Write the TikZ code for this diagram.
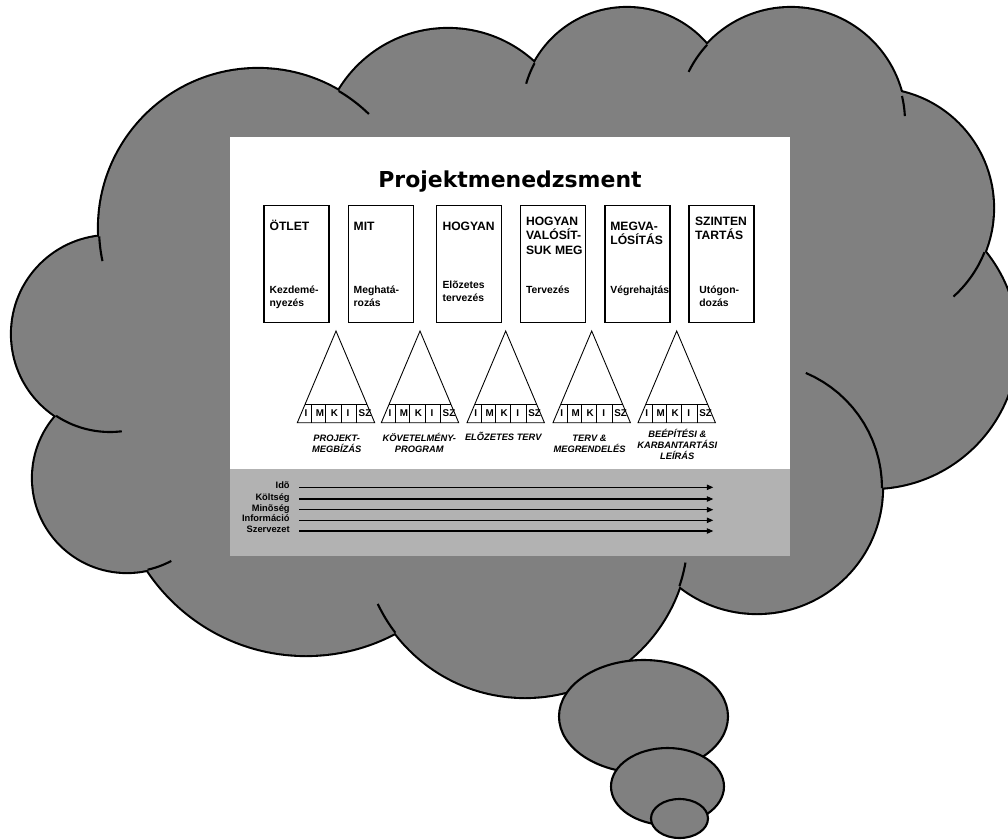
\documentclass[tikz,border=0pt]{standalone}
\usepackage{fontspec}
\setmainfont{Liberation Sans}
\newfontfamily\headfont{DejaVu Sans}
\usetikzlibrary{arrows.meta}
\definecolor{cloudGray}{RGB}{128,128,128}
\definecolor{bandGray} {RGB}{178,178,178}

\tikzset{
  cloudline/.style={line width=1.2pt},
  phasebox/.style={draw,line width=0.6pt,minimum width=1.3cm,
                   minimum height=2.34cm,inner sep=0pt},
  headtext/.style={font=\fontsize{6.9}{8.2}\selectfont\bfseries,
                   align=left,anchor=base west,inner sep=0pt},
  subtext/.style={font=\fontsize{5.9}{7.6}\selectfont\bfseries,
                  align=left,anchor=base west,inner sep=0pt},
  pyramid/.style={line width=0.5pt},
  cell/.style={font=\fontsize{5.6}{6}\selectfont\bfseries,inner sep=0pt},
  doclabel/.style={font=\fontsize{5.3}{6.2}\selectfont\bfseries\itshape,
                   align=center,anchor=base,inner sep=0pt},
  bandlabel/.style={font=\fontsize{5.3}{6}\selectfont\bfseries,
                    anchor=base east,inner sep=0pt},
  flowline/.style={line width=0.6pt,-{Triangle[length=3.6pt,width=3pt]}}
}

\begin{document}
\begin{tikzpicture}[x=0.02cm,y=-0.02cm]
    \useasboundingbox (0,0) rectangle (1008,839);

    % ── FELHŐ ─────────────────────────────────────────────
    \begin{scope}
      \clip (0,0) rectangle (1008,839);
      \foreach \cx/\cy/\r in {110/334/98,258/228/159,448/156/127,627/113/105,
                              791/122/114,874/208/119,872/343/145,757/488/125,
                              525/534/163,306/465/190,127/478/94}
        \draw[line width=2.4pt] (\cx,\cy) circle[radius=\r];
      \fill[cloudGray] (110,334) -- (258,228) -- (448,156) -- (627,113)
        -- (791,122) -- (874,208) -- (872,343) -- (757,488) -- (525,534)
        -- (306,465) -- (127,478) -- cycle;
      \foreach \cx/\cy/\r in {110/334/98,258/228/159,448/156/127,627/113/105,
                              791/122/114,874/208/119,872/343/145,757/488/125,
                              525/534/163,306/465/190,127/478/94}
        \fill[cloudGray] (\cx,\cy) circle[radius=\r];
      % belső ívek
      \foreach \cx/\cy/\r/\a/\b in {258/228/159/177/168,258/228/159/300.5/314.2,
               627/113/105/208.3/196.2,791/122/114/222.6/206.1,
               791/122/114/346.8/357,874/208/119/21.8/48.1,
               757/488/125/360/293,525/534/163/18.6/10.1,
               525/534/163/142.7/154.6,127/478/94/77.4/61.9,
               110/334/98/123.4/83.1}
        \draw[cloudline] plot[domain=\a:\b,samples=16]
          ({\cx+\r*cos(\x)},{\cy+\r*sin(\x)});
    \end{scope}
    % buborékok
    \draw[cloudline,fill=cloudGray] (643.5,716.5) ellipse[x radius=84.5,y radius=56.5];
    \draw[cloudline,fill=cloudGray] (667.5,786.5) ellipse[x radius=56.5,y radius=38.5];
    \draw[cloudline,fill=cloudGray] (679.5,818.5) ellipse[x radius=28.5,y radius=19.5];

    % ── LAP ───────────────────────────────────────────────
    \fill[white] (230,137) rectangle (790,556);
    \fill[bandGray] (230,469) rectangle (790,556);

    \node[font=\headfont\bfseries\fontsize{12.5}{15}\selectfont,anchor=base]
      (title) at (510,187.3) {Projektmenedzsment};

    % ── FÁZISOK (base = utolsó sor alapvonala) ────────────
    \node[phasebox] (otlet) at (296.5,264.2) {};
    \node[headtext] (otletHead) at (269.3,230.4) {ÖTLET};
    \node[subtext]  (otletSub)  at (269.3,306.7) {Kezdemé-\\nyezés};

    \node[phasebox] (mit) at (380.8,264.2) {};
    \node[headtext] (mitHead) at (353.3,230.4) {MIT};
    \node[subtext]  (mitSub)  at (353.3,306.7) {Meghatá-\\rozás};

    \node[phasebox] (hogyan) at (469.2,264.2) {};
    \node[headtext] (hogyanHead) at (442.2,230.4) {HOGYAN};
    \node[subtext]  (hogyanSub)  at (442.2,301.9) {Elõzetes\\tervezés};

    \node[phasebox] (valosit) at (553.2,264.2) {};
    \node[headtext] (valositHead) at (525.7,254.0) {HOGYAN\\VALÓSÍT-\\SUK MEG};
    \node[subtext]  (valositSub)  at (525.7,293.3) {Tervezés};

    \node[phasebox] (megval) at (637.5,264.2) {};
    \node[headtext] (megvalHead) at (610,244.9) {MEGVA-\\LÓSÍTÁS};
    \node[subtext]  (megvalSub)  at (610,293.3) {Végrehajtás};

    \node[phasebox] (szinten) at (721.5,264.2) {};
    \node[headtext] (szintenHead) at (694.7,239.6) {SZINTEN\\TARTÁS};
    \node[subtext]  (szintenSub)  at (699,306.7) {Utógon-\\dozás};

    % ── PIRAMISOK ─────────────────────────────────────────
    \foreach \ax [count=\i] in {336,420,505.7,591.7,676.7} {
      \draw[pyramid] (\ax,331) -- (\ax-38.7,422.7) -- (\ax+38.7,422.7) -- cycle;
      \draw[pyramid] (\ax-30.9,404.3) -- (\ax+30.9,404.3);
      \foreach \d in {-24.3,-10.3,5,20.7}
        \draw[pyramid] (\ax+\d,404.3) -- (\ax+\d,422.7);
      \foreach \l/\o [count=\j] in {I/-30,M/-16,K/-1.5,I/12,SZ/29}
        \node[cell] (cell\i-\j) at (\ax+\o,413.5) {\l};
    }

    % dokumentumok
    \node[doclabel] (doc1) at (336.7,452.5) {PROJEKT-\\MEGBÍZÁS};
    \node[doclabel] (doc2) at (419.3,452.1) {KÖVETELMÉNY-\\PROGRAM};
    \node[doclabel] (doc3) at (503.3,440.5) {ELÕZETES TERV};
    \node[doclabel] (doc4) at (589.5,452.1) {TERV \&\\MEGRENDELÉS};
    \node[doclabel] (doc5) at (677.3,459.7) {BEÉPÍTÉSI \&\\KARBANTARTÁSI\\LEÍRÁS};

    % ── SZEMPONTOK ────────────────────────────────────────
    \foreach \lab/\ly [count=\i] in {Idõ/487.3,Költség/499,Minõség/509.7,
                                     Információ/520.3,Szervezet/531} {
      \node[bandlabel] (band\i) at (290,\ly+1.5) {\lab};
      \coordinate (from\i) at (299,\ly);
      \coordinate (to\i) at (713.3,\ly);
      \draw[flowline] (from\i) -- (to\i);
    }

\end{tikzpicture}
\end{document}
